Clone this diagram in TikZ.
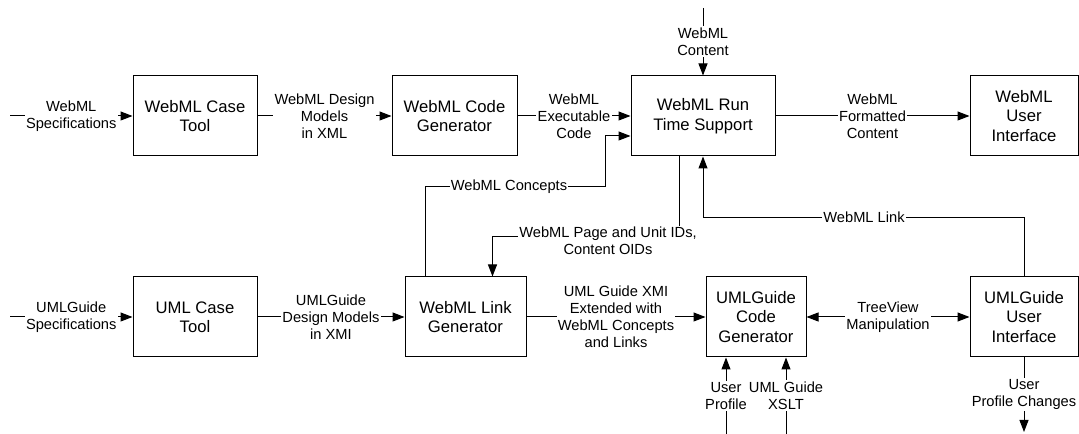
\documentclass[tikz,border=0pt]{standalone}
\usepackage{fontspec}
\setmainfont{Liberation Sans}
\usetikzlibrary{arrows.meta,calc}
\tikzset{
  box/.style={draw, line width=0.75pt, minimum height=60pt, align=center, inner sep=0pt,
    font=\fontsize{12.5}{14.6}\selectfont},
  lab/.style={fill=white, align=center, inner sep=1pt, font=\fontsize{11}{12.8}\selectfont},
  conn/.style={line width=0.75pt},
  arr/.style={conn, -{Triangle[length=9pt,width=6.75pt]}},
  darr/.style={conn, {Triangle[length=9pt,width=6.75pt]}-{Triangle[length=9pt,width=6.75pt]}},
}
\begin{document}
\begin{tikzpicture}[x=0.75pt,y=-0.75pt]
\useasboundingbox (0,0) rectangle (1079,434);
% top row
\node[box, minimum width=93pt]    (A) at (195,116)   {WebML Case\\Tool};
\node[box, minimum width=93.75pt] (B) at (454.5,116) {WebML Code\\Generator};
\node[box, minimum width=108pt]   (C) at (703,116)   {WebML Run\\Time Support};
\node[box, minimum width=81pt]    (D) at (1024,116)  {WebML\\User\\Interface};
% bottom row
\node[box, minimum width=93pt]    (E) at (195,317)   {UML Case\\Tool};
\node[box, minimum width=90.75pt] (F) at (465.5,317) {WebML Link\\Generator};
\node[box, minimum width=75pt]    (G) at (756,317)   {UMLGuide\\Code\\Generator};
\node[box, minimum width=81pt]    (H) at (1024,317)  {UMLGuide\\User\\Interface};
% free ends
\coordinate (inA) at (10,116);
\coordinate (inE) at (10,317);
\coordinate (inC) at (703,8);
\coordinate (inG1) at (726,434);
\coordinate (inG2) at (786,434);
\coordinate (outH) at (1024,432);
% top connectors
\draw[arr] (inA) -- node[lab] {WebML\\Specifications} (A.west);
\draw[arr] (A.east) -- node[lab] {WebML Design\\Models\\in XML} (B.west);
\draw[arr] (B.east) -- node[lab] {WebML\\Executable\\Code} (C.west);
\draw[arr] (C.east) -- node[lab] {WebML\\Formatted\\Content} (D.west);
\draw[arr] (inC) -- node[lab] {WebML\\Content} (C.north);
% middle connectors
\draw[arr] ([xshift=15.75pt]F.north west) |- (605,187) |- ([yshift=-15pt]C.west);
\node[lab] (lc) at (509,187) {WebML Concepts};
\draw[arr] (H.north) |- ($(C.south)+(0,61)$) -- (C.south);
\node[lab] (ll) at (864,217) {WebML Link};
\draw[arr] ([xshift=-18pt]C.south) -- ++(0,80) -| ([xshift=66pt]F.north west);
\node[lab] (lp) at (608,241) {WebML Page and Unit IDs,\\Content OIDs};
% bottom connectors
\draw[arr] (inE) -- node[lab] {UMLGuide\\Specifications} (E.west);
\draw[arr] (E.east) -- node[lab] {UMLGuide\\Design Models\\in XMI} (F.west);
\draw[arr] (F.east) -- node[lab] {UML Guide XMI\\Extended with\\WebML Concepts\\and Links} (G.west);
\draw[darr] (G.east) -- node[lab] {TreeView\\Manipulation} (H.west);
\draw[arr] (inG1) -- node[lab] {User\\Profile} ([xshift=-22.5pt]G.south);
\draw[arr] (inG2) -- node[lab] {UML Guide\\XSLT} ([xshift=22.5pt]G.south);
\draw[arr] (H.south) -- node[lab] {User\\Profile Changes} (outH);
\end{tikzpicture}
\end{document}
